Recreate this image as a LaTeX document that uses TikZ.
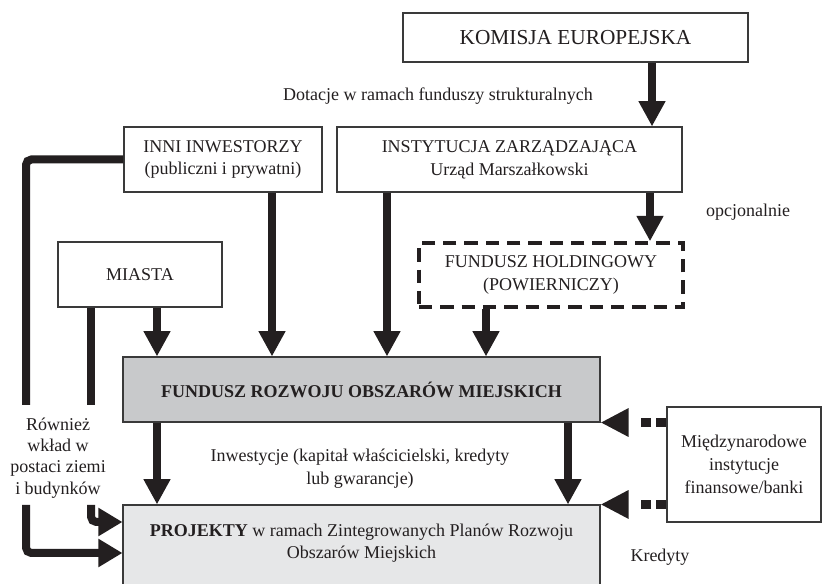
\documentclass[tikz,border=0pt]{standalone}
\usepackage{fontspec}
\setmainfont{Liberation Serif}
\usetikzlibrary{arrows.meta}
\definecolor{ink}{HTML}{231F20}
\definecolor{frame}{HTML}{3A3A3A}
\definecolor{fundgray}{HTML}{C8C9CB}
\definecolor{projgray}{HTML}{E6E7E8}
\newcommand{\txtsize}{\fontsize{13.5}{17}\selectfont}

\begin{document}
\begin{tikzpicture}[x=0.75pt,y=-0.75pt,
  box/.style={draw=frame, line width=0.8pt, align=center, inner sep=0pt, text=ink, font=\txtsize},
  txt/.style={align=center, inner sep=0pt, text=ink, font=\txtsize},
  flow/.style={draw=ink, line width=6.5pt, -{Triangle[length=19pt,width=19pt]}},
  trunk/.style={draw=ink, line width=6pt, rounded corners=4pt},
  tip/.style={-{Triangle[length=18pt,width=20pt]}},
  loan/.style={draw=ink, line width=6.5pt, dash pattern=on 7.5pt off 4pt on 7.5pt off 20pt, -{Triangle[length=21pt,width=20pt]}}]
\fill[white] (0,0) rectangle (822,584);
\clip (0,0) rectangle (822,584);
% boxes
\node[box, font=\fontsize{16}{19}\selectfont, minimum width=258.75pt, minimum height=36.75pt] (komisja) at (575.5,37.5) {KOMISJA EUROPEJSKA};
\node[box, minimum width=148.5pt, minimum height=48.75pt] (inni) at (223,159.5) {INNI INWESTORZY\\(publiczni i prywatni)};
\node[box, minimum width=258.75pt, minimum height=48.75pt] (instytucja) at (509.5,159.5) {INSTYTUCJA ZARZĄDZAJĄCA\\Urząd Marszałkowski};
\node[box, minimum width=123pt, minimum height=48.75pt] (miasta) at (140,274.5) {MIASTA};
\node[box, draw=ink, line width=2.6pt, dash pattern=on 10pt off 6pt, minimum width=198pt, minimum height=48pt] (holding) at (551,275) {FUNDUSZ HOLDINGOWY\\(POWIERNICZY)};
\node[box, fill=fundgray, font=\txtsize\bfseries, minimum width=357.75pt, minimum height=48.75pt] (fundusz) at (361.5,389.5) {FUNDUSZ ROZWOJU OBSZARÓW MIEJSKICH};
\node[box, fill=projgray, minimum width=357.75pt, minimum height=82.5pt,
  label={[txt, anchor=center, yshift=-28.9pt]north:{\textbf{PROJEKTY} w ramach Zintegrowanych Planów Rozwoju\\Obszarów Miejskich}}] (projekty) at (361.5,560) {};
\node[box, minimum width=115.5pt, minimum height=86.25pt] (banki) at (744,464.5) {Międzynarodowe\\instytucje\\finansowe/banki};
% labels
\node[txt] (dotacje) at (438,96) {Dotacje w ramach funduszy strukturalnych};
\node[txt] (opcja) at (748,212) {opcjonalnie};
\node[txt] (inwest) at (360,469) {Inwestycje (kapitał właścicielski, kredyty\\lub gwarancje)};
\node[txt] (kredyty) at (660,557) {Kredyty};
\node[txt, font=\fontsize{13.5}{16}\selectfont] (wklad) at (58,458) {Również\\wkład w\\postaci ziemi\\i budynków};
\coordinate (cutA) at (26,405);
\coordinate (cutB) at (26,505);
\coordinate (cutC) at (91,405);
\coordinate (cutD) at (91,505);
% flows
\draw[flow] (652,0 |- komisja.south) -- (652,0 |- instytucja.north);
\draw[flow] (272,0 |- inni.south) -- (272,0 |- fundusz.north);
\draw[flow] (387,0 |- instytucja.south) -- (387,0 |- fundusz.north);
\draw[flow] (650,0 |- instytucja.south) -- (650,0 |- holding.north);
\draw[flow] (486,0 |- holding.south) -- (486,0 |- fundusz.north);
\draw[flow] (157,0 |- miasta.south) -- (157,0 |- fundusz.north);
\draw[flow] (157,0 |- fundusz.south) -- (157,0 |- projekty.north);
\draw[flow] (568,0 |- fundusz.south) -- (568,0 |- projekty.north);
% land and buildings
\draw[trunk] (inni.west) -| (cutA);
\draw[trunk, tip] (cutB) |- (26,553 -| projekty.west);
\draw[trunk] (91,0 |- miasta.south) -- (cutC);
\draw[trunk, tip] (cutD) |- (91,522 -| projekty.west);
% credits
\draw[loan] (banki.west |- fundusz.south) -- (fundusz.south east);
\draw[loan] (banki.west |- projekty.north) -- (projekty.north east);
\end{tikzpicture}
\end{document}
